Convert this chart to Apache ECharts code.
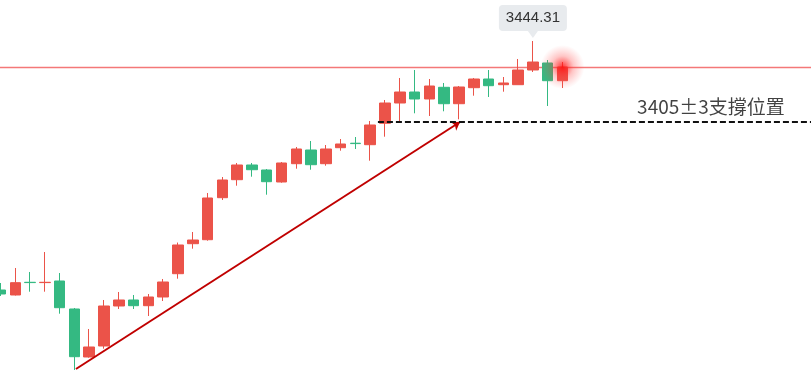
<!DOCTYPE html>
<html>
<head>
<meta charset="utf-8">
<script src="https://cdn.jsdelivr.net/npm/echarts@6/dist/echarts.min.js"></script>
<style>html,body{margin:0;padding:0;background:#fff;}#c{width:811px;height:373px;}</style>
</head>
<body>
<div id="c"></div>
<script>
var categories = ['1','2','3','4','5','6','7','8','9','10','11','12','13','14','15','16','17','18','19','20','21','22','23','24','25','26','27','28','29','30','31','32','33','34','35','36','37','38','39'];
var opens  = [3323.47,3321.05,3327.21,3327.06,3327.84,3314.25,3290.96,3296.30,3315.71,3318.62,3315.85,3320.08,3331.38,3345.94,3347.88,3368.27,3377.00,3384.14,3381.71,3375.89,3384.77,3391.41,3384.77,3392.53,3394.71,3393.99,3404.37,3414.22,3419.56,3416.17,3421.84,3413.88,3421.65,3425.87,3423.11,3423.11,3430.24,3433.64,3425.05];
var closes = [3321.53,3327.02,3327.06,3327.21,3314.88,3291.10,3295.81,3315.71,3318.62,3315.85,3320.08,3327.36,3345.31,3347.73,3368.12,3376.86,3384.14,3381.85,3376.03,3385.11,3391.90,3384.28,3391.90,3394.33,3394.52,3403.55,3414.22,3419.56,3416.17,3422.47,3413.88,3421.99,3425.87,3422.62,3423.93,3430.24,3434.12,3425.05,3431.69];
var lows   = [3320.56,3320.80,3322.65,3322.65,3311.97,3284.65,3290.62,3294.99,3314.25,3314.25,3310.86,3318.13,3328.96,3343.52,3347.40,3367.15,3374.09,3378.46,3369.72,3375.55,3382.34,3381.85,3383.80,3391.08,3391.90,3386.22,3397.87,3404.86,3409.23,3407.92,3410.20,3406.31,3417.77,3417.14,3419.71,3423.11,3429.27,3412.77,3421.50];
var highs  = [3326.87,3334.15,3332.21,3341.91,3331.72,3314.74,3304.55,3318.62,3322.50,3321.05,3321.53,3328.81,3346.50,3351.62,3370.55,3378.31,3385.11,3385.11,3382.19,3385.59,3392.87,3395.78,3393.84,3396.75,3397.72,3405.49,3415.68,3426.36,3430.24,3425.87,3423.93,3422.47,3426.36,3430.24,3426.84,3435.58,3444.31,3435.09,3434.12];
var supportLevel = 3405;
var supportText = '3405±3支撐位置';
var arrowStart = [5.1, 3285.13];
var arrowEnd = [31.07, 3405.0];

var kData = opens.map(function(o, i){ return [o, closes[i], lows[i], highs[i]]; });
var maxHigh = Math.max.apply(null, highs);
var maxIdx = highs.indexOf(maxHigh);
var lastIdx = closes.length - 1;
var lastClose = closes[lastIdx];

var UP = '#eb5349', DOWN = '#34b982';
var chart = echarts.init(document.getElementById('c'));
chart.setOption({
  animation: false,
  backgroundColor: '#ffffff',
  grid: { left: -6.9, right: -10.3, top: 0, bottom: 0, containLabel: false, outerBoundsMode: 'none' },
  xAxis: [
    { type: 'category', data: categories, max: 55, boundaryGap: true, show: false },
    { type: 'value', min: -0.5, max: 55.5, show: false, splitLine: { show: false } }
  ],
  yAxis: { type: 'value', min: 3283.19, max: 3464.21, show: false, splitLine: { show: false } },
  series: [
    {
      type: 'lines',
      coordinateSystem: 'cartesian2d',
      xAxisIndex: 1,
      symbol: ['none', 'none'],
      silent: true,
      lineStyle: { color: 'rgb(244,120,120)', width: 1.3, type: 'solid', opacity: 1 },
      data: [{ coords: [[-0.5, lastClose], [55.5, lastClose]] }],
      z: 1
    },
    {
      type: 'candlestick',
      data: kData,
      barWidth: 11,
      z: 2,
      itemStyle: { color: UP, color0: DOWN, borderColor: UP, borderColor0: DOWN, borderWidth: 1 },
      markPoint: {
        silent: true,
        symbol: 'path://M4,0 H64 Q68,0 68,4 V22 Q68,26 64,26 H39 L34,33 L29,26 H4 Q0,26 0,22 V4 Q0,0 4,0 Z',
        symbolSize: [68, 33],
        symbolOffset: [0, -19.5],
        itemStyle: { color: '#e8ebee' },
        label: { show: true, color: '#333', fontSize: 15, fontFamily: 'Liberation Sans, Arial, sans-serif', offset: [0, -3.5], formatter: function(){ return maxHigh.toFixed(2); } },
        data: [{ coord: [maxIdx, maxHigh], value: maxHigh }]
      }
    },
    {
      type: 'scatter',
      data: [[lastIdx, lastClose]],
      symbolSize: 44,
      silent: true,
      itemStyle: {
        color: { type: 'radial', x: 0.5, y: 0.5, r: 0.5, colorStops: [
          { offset: 0, color: 'rgba(255,10,10,1)' },
          { offset: 0.15, color: 'rgba(255,25,25,0.85)' },
          { offset: 0.5, color: 'rgba(255,50,50,0.35)' },
          { offset: 1, color: 'rgba(255,80,80,0)' } ] }
      },
      z: 5
    },
    {
      type: 'lines',
      coordinateSystem: 'cartesian2d',
      xAxisIndex: 1,
      polyline: false,
      symbol: ['none', 'arrow'],
      symbolSize: 8,
      lineStyle: { color: '#c00000', width: 2, opacity: 1 },
      data: [{ coords: [arrowStart, arrowEnd] }],
      z: 4
    },
    {
      type: 'lines',
      coordinateSystem: 'cartesian2d',
      xAxisIndex: 1,
      symbol: ['none', 'none'],
      lineStyle: { color: '#111', width: 2, type: [6, 3], opacity: 1 },
      data: [{ coords: [[25.52, supportLevel], [55.5, supportLevel]] }],
      z: 4
    },
    {
      type: 'scatter',
      xAxisIndex: 1,
      silent: true,
      symbolSize: 1,
      itemStyle: { color: 'transparent' },
      label: { show: true, position: 'inside', offset: [0, -15], color: '#111', fontSize: 19, fontFamily: 'Noto Sans CJK TC, sans-serif', formatter: function(){ return supportText; } },
      data: [[48.04, supportLevel]]
    }
  ]
});
</script>
</body>
</html>
